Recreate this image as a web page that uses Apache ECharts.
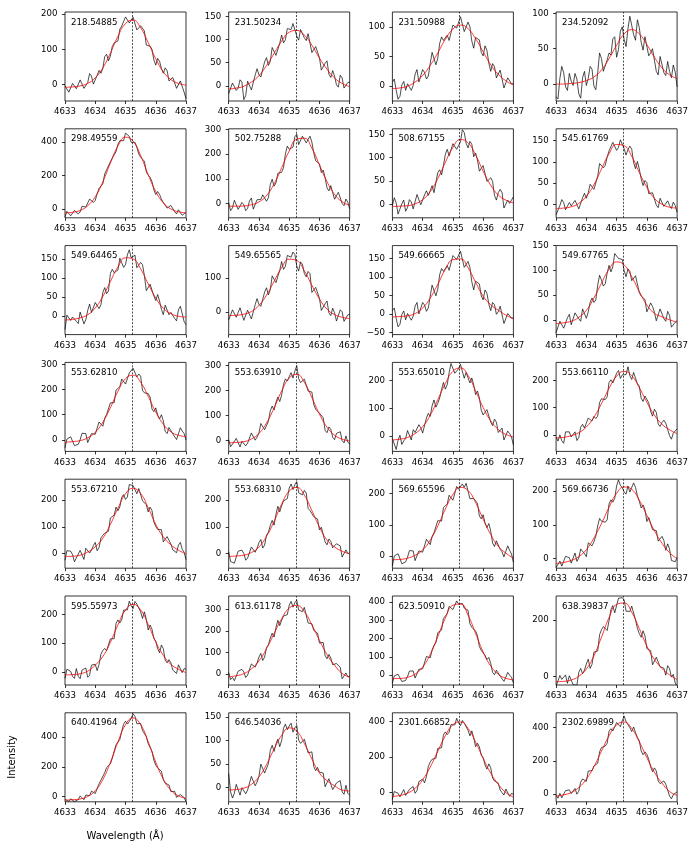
<!DOCTYPE html>
<html>
<head>
<meta charset="utf-8">
<title>Line profiles</title>
<script src="https://cdn.jsdelivr.net/npm/echarts@6/dist/echarts.min.js"></script>
<style>
  html, body { margin: 0; padding: 0; background: #fff; }
  #chart { width: 696px; height: 852px; }
</style>
</head>
<body>
<div id="chart"></div>
<script>
// sampled wavelengths (observed spectrum and fitted profile)
var wavelength = [4633, 4633.0625, 4633.125, 4633.1875, 4633.25, 4633.3125, 4633.375, 4633.4375,
  4633.5, 4633.5625, 4633.625, 4633.6875, 4633.75, 4633.8125, 4633.875, 4633.9375,
  4634, 4634.0625, 4634.125, 4634.1875, 4634.25, 4634.3125, 4634.375, 4634.4375,
  4634.5, 4634.5625, 4634.625, 4634.6875, 4634.75, 4634.8125, 4634.875, 4634.9375,
  4635, 4635.0625, 4635.125, 4635.1875, 4635.25, 4635.3125, 4635.375, 4635.4375,
  4635.5, 4635.5625, 4635.625, 4635.6875, 4635.75, 4635.8125, 4635.875, 4635.9375,
  4636, 4636.0625, 4636.125, 4636.1875, 4636.25, 4636.3125, 4636.375, 4636.4375,
  4636.5, 4636.5625, 4636.625, 4636.6875, 4636.75, 4636.8125, 4636.875, 4636.9375, 4637];
var fitWavelength = [4633, 4633.25, 4633.5, 4633.75, 4634, 4634.25, 4634.5, 4634.75,
  4635, 4635.25, 4635.5, 4635.75, 4636, 4636.25, 4636.5, 4636.75, 4637];
var restWavelength = 4635.22;

var epochs = ['218.54885', '231.50234', '231.50988', '234.52092',
  '298.49559', '502.75288', '508.67155', '545.61769',
  '549.64465', '549.65565', '549.66665', '549.67765',
  '553.62810', '553.63910', '553.65010', '553.66110',
  '553.67210', '553.68310', '569.65596', '569.66736',
  '595.55973', '613.61178', '623.50910', '638.39837',
  '640.41964', '646.54036', '2301.66852', '2302.69899'];

// observed intensities
var obs01 = [-4,1,-22,-22,3,3,-12,-16,13,12,-11,-9,5,31,24,1,3,26,40,32,45,79,86,67,81,108,118,119,124,157,166,165,192,190,175,172,191,189,155,154,167,170,152,112,109,109,100,70,55,74,66,45,32,47,39,10,7,20,19,-11,-9,10,6,-22,-40];
var obs02 = [-17,-20,6,10,-10,-5,13,8,-30,-21,10,6,-9,-10,23,37,24,19,22,52,61,44,53,83,80,66,69,92,110,93,100,124,121,122,135,133,108,99,122,120,104,98,113,110,72,73,85,81,61,34,36,49,54,25,18,33,21,2,-3,23,17,-5,-3,7,8];
var obs03 = [7,12,-7,-22,-17,2,8,-7,4,7,-7,1,20,28,7,7,28,23,12,17,38,57,54,36,47,72,83,77,75,86,77,78,103,105,98,99,117,117,92,94,108,100,76,64,82,84,78,57,51,68,60,39,25,38,33,14,17,27,25,-3,-5,14,12,4,4];
var obs04 = [-18,-21,8,25,16,-4,-9,15,4,-2,15,7,-14,-20,9,18,-2,8,25,21,-3,-8,16,44,36,18,18,34,44,41,64,67,38,49,75,81,63,53,78,96,97,70,62,91,80,59,48,67,69,40,44,50,48,18,13,39,37,16,12,32,18,9,27,17,-4];
var obs05 = [-48,-14,-16,-41,-35,-9,-2,-30,-18,16,23,11,15,59,60,39,51,91,122,124,150,209,233,237,282,304,304,343,387,408,399,408,453,452,434,398,389,398,368,329,309,309,285,221,202,189,164,114,86,104,87,58,39,36,5,-4,21,11,-16,-30,-5,-7,-38,-34,-19];
var obs06 = [4,-28,-17,14,8,-23,-31,5,-4,-28,-19,11,23,-22,-17,16,9,17,36,37,10,24,78,99,71,84,123,129,127,146,202,233,220,215,229,271,281,239,244,273,279,246,242,273,249,205,174,181,161,126,136,105,64,52,73,66,18,21,46,47,1,-8,19,6,-21];
var obs07 = [-3,14,3,-21,-21,1,9,-15,-7,10,5,-10,-12,21,21,-1,2,20,29,19,29,40,25,29,68,74,63,83,107,118,104,103,130,130,118,115,134,160,154,131,121,135,129,102,110,95,71,69,83,80,49,49,57,49,19,9,25,32,25,-8,-8,9,2,4,16];
var obs08 = [-25,-27,-3,11,4,-13,-15,4,-4,-8,9,5,-11,-13,15,26,14,27,47,50,35,38,66,96,96,86,92,111,126,125,146,149,127,134,152,152,131,116,129,137,130,98,84,101,83,60,44,56,51,25,25,27,23,-2,-8,14,12,-5,-9,8,-3,-10,5,-3,-19];
var obs09 = [-35,3,8,-11,-2,0,-13,-19,11,9,-20,-9,15,32,10,8,36,32,20,30,62,75,59,66,112,123,114,115,121,152,155,128,135,161,174,153,158,160,127,126,141,135,106,67,71,84,85,53,41,57,40,18,4,29,28,4,10,10,-6,-12,17,26,7,-14,-22];
var obs10 = [-23,-27,7,12,-15,-11,13,15,-24,-23,6,1,-20,-21,22,40,23,17,21,59,72,51,66,107,104,87,92,123,149,126,135,167,162,162,177,170,136,121,148,141,114,104,120,113,58,60,73,68,41,5,8,25,33,-2,-10,12,-2,-26,-30,7,1,-27,-23,-8,-6];
var obs11 = [9,16,-12,-35,-28,-1,8,-16,1,6,-17,-6,21,31,0,-1,31,24,7,16,48,78,74,49,67,106,123,115,114,131,118,120,158,160,147,144,170,168,126,125,142,126,87,65,89,91,81,49,38,65,56,27,9,31,25,-1,6,21,19,-26,-30,1,1,-11,-11];
var obs12 = [-26,-27,-3,1,-17,-13,4,11,-10,-8,14,14,2,-3,22,24,3,16,35,44,35,40,70,90,80,68,73,94,110,97,107,134,135,124,126,122,99,87,103,98,79,75,89,89,55,48,50,41,16,12,34,27,15,-2,0,22,21,2,-3,17,9,-15,-16,-5,-2];
var obs13 = [-32,3,1,12,12,-23,-16,-18,0,26,19,25,-11,-7,25,27,22,24,71,75,54,86,101,106,147,143,148,198,203,211,242,246,222,225,266,273,285,286,250,262,253,196,187,191,184,170,123,112,127,99,83,100,75,34,25,49,50,24,17,1,24,48,35,25,-1];
var obs14 = [3,-25,-15,-10,8,12,-26,-3,0,-22,-11,-11,30,30,1,13,30,68,63,43,49,76,119,138,122,153,174,156,182,225,247,238,256,272,250,278,300,248,232,229,246,246,198,191,194,144,125,130,109,106,91,40,31,54,45,13,3,28,34,35,-1,-10,18,-6,-15];
var obs15 = [-9,-6,-48,-15,3,-30,-17,-9,20,21,-14,23,13,11,41,30,11,13,65,82,71,109,130,104,118,137,167,193,169,185,228,261,262,226,234,242,258,253,208,229,227,191,209,184,149,162,138,93,76,79,95,95,50,38,61,50,13,10,29,-14,-12,18,9,-3,-32];
var obs16 = [-8,-23,0,-22,-31,11,10,11,-8,-14,11,-21,-10,28,39,25,18,62,61,51,68,60,69,119,133,137,130,140,193,203,191,195,227,237,208,221,228,222,251,218,204,230,209,189,179,135,123,143,136,118,87,69,94,83,40,31,45,54,43,39,-3,-16,7,6,22];
var obs17 = [-26,10,8,8,-5,-32,-17,-13,11,10,-23,19,18,1,12,29,41,10,22,58,68,76,69,83,133,133,144,174,160,175,211,221,203,212,259,254,255,258,224,244,244,198,200,183,156,174,161,118,101,90,92,89,43,37,63,60,35,13,11,2,31,41,15,4,-24];
var obs18 = [6,-31,-30,-37,-32,8,6,12,-1,-26,-18,-18,24,28,4,19,40,52,20,31,69,79,105,124,106,147,177,156,179,197,194,206,245,261,240,258,270,228,223,220,237,227,169,161,164,138,144,129,88,98,95,43,32,54,45,21,19,36,32,28,-14,-18,13,-1,1];
var obs19 = [-31,1,-2,8,7,-24,-18,-18,-3,18,12,17,-14,-11,17,18,13,14,54,57,37,63,75,79,113,108,112,155,158,166,194,199,178,183,222,213,211,230,219,232,230,183,178,184,181,168,128,119,132,106,91,104,80,42,31,49,47,22,14,-2,16,33,19,7,-19];
var obs20 = [-26,-27,-7,-22,-25,7,3,3,-13,-12,17,-8,2,29,29,15,6,47,48,38,50,67,97,119,111,114,108,115,162,174,167,178,215,233,217,210,197,191,215,197,195,224,211,186,170,150,159,145,110,122,121,86,86,83,52,49,66,54,25,44,29,-5,-8,-9,4];
var obs21 = [-22,10,6,2,-15,-22,12,-15,-23,7,6,14,-18,-11,24,29,27,5,26,62,75,82,74,77,115,111,116,169,181,170,181,215,221,216,246,230,220,245,236,231,209,186,209,183,146,163,149,116,107,81,67,94,81,41,32,43,32,7,1,-5,25,29,-2,12,10];
var obs22 = [7,-26,-16,-31,-33,13,13,22,9,-16,-5,-2,47,56,32,52,79,96,63,79,123,136,167,190,172,216,250,225,250,270,264,276,320,338,311,332,344,298,292,290,310,301,238,231,233,203,209,190,144,153,147,86,71,91,75,43,36,49,40,31,-22,-28,5,-12,-11];
var obs23 = [-44,-4,-8,5,4,-35,-28,-29,-8,22,15,23,-16,-8,32,38,35,43,102,112,95,138,163,178,232,235,247,310,323,337,376,384,359,360,406,388,378,392,367,372,355,281,262,257,241,216,156,136,145,108,85,97,64,15,2,27,25,-6,-15,-34,-10,15,0,-12,-42];
var obs24 = [-35,-38,3,-11,-11,5,-25,2,7,-30,-32,-32,14,28,9,22,44,61,28,43,86,79,90,148,166,177,179,163,198,238,252,226,233,278,280,280,272,232,233,231,250,253,201,171,152,139,162,144,99,102,91,41,38,68,62,34,32,29,4,38,27,-3,7,-24,-37];
var obs25 = [-20,-8,-33,-16,-10,-34,-27,-21,4,6,-22,10,3,6,36,31,20,32,86,110,111,161,195,191,220,257,305,349,352,385,440,488,508,489,506,529,558,541,491,501,493,445,442,405,357,346,305,246,210,193,188,170,113,91,98,77,33,25,35,-6,-11,13,2,-8,-34];
var obs26 = [30,-9,-22,-12,7,10,-16,0,2,-13,-5,-4,24,24,4,12,24,50,46,31,35,51,79,90,77,93,103,87,100,126,135,123,131,137,118,127,132,101,94,91,103,105,74,72,76,45,36,43,33,36,31,2,0,19,15,-4,-8,10,14,15,-9,-14,5,-12,-16];
var obs27 = [-38,6,1,-4,-24,-30,17,-16,-25,18,21,34,-4,11,62,73,76,55,90,147,172,188,183,194,249,245,253,326,342,327,340,384,391,381,419,394,378,407,392,384,352,320,348,310,259,278,258,211,196,156,132,162,140,82,65,73,53,14,0,-14,20,22,-21,-5,-9];
var obs28 = [-8,-26,3,-24,-34,20,21,24,2,-2,33,-2,16,71,90,78,75,138,145,140,168,166,185,254,280,290,289,306,379,394,380,388,431,442,406,442,470,436,446,400,377,404,371,340,321,259,237,254,239,209,163,134,157,138,78,62,73,78,58,46,-13,-30,-4,-6,12];

// fitted profiles
var fit01 = [-8,-7,-4,3,19,47,89,137,173,183,161,119,73,36,14,3,-2];
var fit02 = [-7,-5,-1,8,22,44,70,97,116,120,110,88,60,36,17,5,-2];
var fit03 = [-4,-3,0,7,18,35,56,79,96,103,97,80,58,36,20,9,2];
var fit04 = [0,0,1,2,5,10,20,36,55,71,77,71,56,38,23,13,8];
var fit05 = [-24,-20,-9,19,73,162,274,376,429,405,319,205,105,36,0,-17,-23];
var fit06 = [-10,-10,-9,-4,7,33,80,145,213,261,265,224,157,89,38,8,-7];
var fit07 = [-5,-4,-3,1,10,27,55,90,122,139,132,106,71,41,20,9,3];
var fit08 = [-10,-9,-6,2,19,46,83,119,141,138,113,75,40,14,0,-7,-9];
var fit09 = [-10,-8,-4,4,22,52,91,129,153,150,124,85,48,21,7,0,-2];
var fit10 = [-10,-9,-6,2,20,50,91,131,156,152,122,79,39,9,-7,-15,-19];
var fit11 = [-8,-7,-5,1,16,43,80,120,147,149,125,86,48,25,10,-3,-14];
var fit12 = [-8,-6,-3,5,19,44,74,102,117,111,87,57,30,13,6,0,-5];
var fit13 = [-10,-7,-3,8,30,70,128,193,243,257,229,173,111,62,32,18,13];
var fit14 = [-10,-8,-5,6,28,70,130,198,250,265,233,172,106,53,21,5,-2];
var fit15 = [-14,-11,-5,9,34,75,131,189,233,245,218,163,103,55,24,6,-3];
var fit16 = [-11,-9,-3,8,29,65,115,171,216,234,218,174,120,73,39,19,4];
var fit17 = [-12,-11,-7,5,25,57,109,170,224,245,225,172,109,62,32,12,-2];
var fit18 = [-12,-10,-7,3,24,64,120,185,234,248,219,161,99,50,24,8,-2];
var fit19 = [-11,-10,-6,3,20,51,96,150,196,219,209,171,118,69,32,10,-6];
var fit20 = [-14,-11,-5,6,27,61,104,152,193,212,205,173,128,83,46,18,0];
var fit21 = [-10,-9,-6,3,24,54,103,164,215,235,216,165,105,58,27,10,-2];
var fit22 = [-13,-8,2,24,61,118,188,257,307,319,290,229,157,91,41,3,-15];
var fit23 = [-19,-18,-12,6,44,113,210,312,382,389,328,228,127,50,5,-17,-26];
var fit24 = [-19,-18,-13,0,26,73,139,209,256,261,228,170,108,60,28,5,-12];
var fit25 = [-24,-22,-17,0,39,114,230,368,484,530,485,369,232,117,42,4,-12];
var fit26 = [-5,-4,-1,7,23,49,82,111,127,120,94,61,31,15,4,-5,-7];
var fit27 = [-22,-16,-3,24,72,144,233,320,383,398,362,285,194,110,47,0,-25];
var fit28 = [-12,-6,8,38,89,164,258,351,417,434,395,315,219,131,65,15,-10];

// y extents and tick values of each panel
var yMin = [-47,-33,-25,-24, -53,-57,-29,-32, -48,-66,-56,-30, -46,-44,-55,-61,
  -56,-56,-38,-28, -45,-51,-54,-31, -36,-30,-52,-48];
var yMax = [206,160,125,102, 479,303,162,178, 185,196,185,150, 308,313,265,267,
  279,279,245,235, 264,363,433,286, 565,159,450,490];
var yTicks = [
  [0,100,200], [0,50,100,150], [0,50,100], [0,50,100],
  [0,200,400], [0,100,200,300], [0,50,100,150], [0,50,100,150],
  [0,50,100,150], [0,100], [-50,0,50,100,150], [0,50,100,150],
  [0,100,200,300], [0,100,200,300], [0,100,200], [0,100,200],
  [0,100,200], [0,100,200], [0,100,200], [0,100,200],
  [0,100,200], [0,100,200,300], [0,100,200,300,400], [0,200],
  [0,200,400], [0,50,100,150], [0,200,400], [0,200,400]
];

var observed = [obs01,obs02,obs03,obs04,obs05,obs06,obs07,obs08,obs09,obs10,obs11,obs12,obs13,obs14,
  obs15,obs16,obs17,obs18,obs19,obs20,obs21,obs22,obs23,obs24,obs25,obs26,obs27,obs28];
var fitted = [fit01,fit02,fit03,fit04,fit05,fit06,fit07,fit08,fit09,fit10,fit11,fit12,fit13,fit14,
  fit15,fit16,fit17,fit18,fit19,fit20,fit21,fit22,fit23,fit24,fit25,fit26,fit27,fit28];

(function () {
  var font = '"DejaVu Sans", sans-serif';
  var tickFont = 8.6;

  function pairs(xs, ys) {
    return xs.map(function (x, j) { return [x, ys[j]]; });
  }
  function minusSign(v) {
    return String(v).replace('-', '\u2212');
  }

  var chart = echarts.init(document.getElementById('chart'));
  var grids = [], xAxes = [], yAxes = [], series = [], titles = [];

  for (var i = 0; i < observed.length; i++) {
    var row = Math.floor(i / 4), col = i % 4;
    var panelLeft = 65 + col * 163.7;
    var panelTop = 12 + row * 116.8;

    grids.push({
      left: panelLeft, top: panelTop, width: 121, height: 89,
      show: true, borderColor: '#000', borderWidth: 0.8, backgroundColor: 'transparent'
    });
    xAxes.push({
      type: 'value', gridIndex: i, min: 4633, max: 4637, interval: 1,
      axisLine: { show: false, onZero: false },
      splitLine: { show: false },
      axisTick: { show: true, length: 3, lineStyle: { color: '#000', width: 0.8 } },
      axisLabel: {
        fontSize: tickFont, color: '#000', fontFamily: font, margin: 6.5,
        showMinLabel: true, showMaxLabel: true, hideOverlap: false,
        formatter: function (v) { return String(v); }
      }
    });
    yAxes.push({
      type: 'value', gridIndex: i, min: yMin[i], max: yMax[i],
      axisLine: { show: false, onZero: false },
      splitLine: { show: false },
      axisTick: { show: true, length: 3, customValues: yTicks[i], lineStyle: { color: '#000', width: 0.8 } },
      axisLabel: {
        customValues: yTicks[i],
        fontSize: tickFont, color: '#000', fontFamily: font, margin: 7.5,
        formatter: minusSign
      }
    });
    series.push({
      type: 'line', xAxisIndex: i, yAxisIndex: i,
      data: pairs(wavelength, observed[i]),
      symbol: 'none', silent: true, clip: true, z: 2,
      lineStyle: { color: '#000', width: 0.7 }
    });
    series.push({
      type: 'line', xAxisIndex: i, yAxisIndex: i,
      data: pairs(fitWavelength, fitted[i]),
      smooth: true, symbol: 'none', silent: true, clip: true, z: 3,
      lineStyle: { color: '#ff0000', width: 0.8 },
      markLine: {
        silent: true, symbol: 'none', label: { show: false },
        lineStyle: { color: '#000', type: [2, 1.5], width: 0.7 },
        data: [{ xAxis: restWavelength }]
      }
    });
    titles.push({
      text: epochs[i], left: panelLeft + 6, top: panelTop + 5.8, padding: 0,
      textStyle: { fontSize: tickFont, fontWeight: 'normal', color: '#000', fontFamily: font }
    });
  }

  var option = {
    animation: false,
    backgroundColor: '#fff',
    title: titles,
    grid: grids,
    xAxis: xAxes,
    yAxis: yAxes,
    series: series,
    graphic: [
      {
        type: 'text', x: 12.5, y: 757, rotation: Math.PI / 2,
        style: { text: 'Intensity', fontSize: 10, fontFamily: font, fill: '#000', textAlign: 'center', textVerticalAlign: 'middle' }
      },
      {
        type: 'text', x: 125, y: 836,
        style: { text: 'Wavelength (Å)', fontSize: 10, fontFamily: font, fill: '#000', textAlign: 'center', textVerticalAlign: 'middle' }
      }
    ]
  };

  chart.setOption(option);
  window.onresize = chart.resize;
})();
</script>
</body>
</html>
